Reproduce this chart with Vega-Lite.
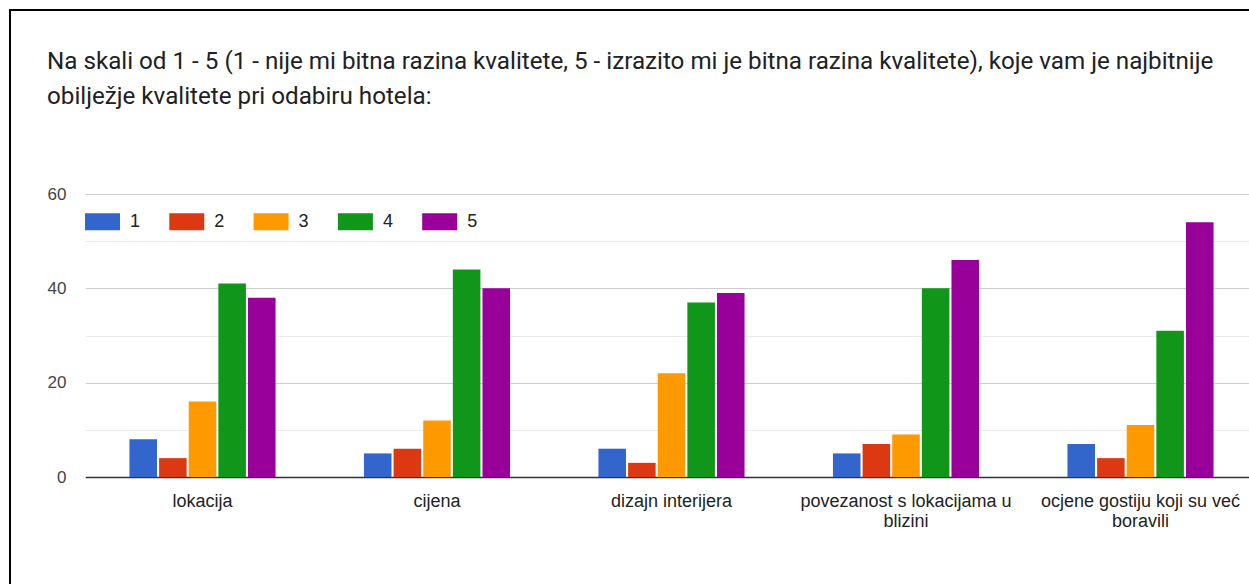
{
  "$schema": "https://vega.github.io/schema/vega-lite/v6.json",
  "width": 1260,
  "height": 600,
  "autosize": {"type": "none"},
  "padding": {"left": 10, "top": 10, "right": 0, "bottom": 0},
  "background": "white",
  "title": {
    "text": ["Na skali od 1 - 5 (1 - nije mi bitna razina kvalitete, 5 - izrazito mi je bitna razina kvalitete), koje vam je najbitnije", "obilježje kvalitete pri odabiru hotela:"],
    "anchor": "start",
    "frame": "group",
    "orient": "top",
    "baseline": "top",
    "offset": -99,
    "dx": 37,
    "fontSize": 24.2,
    "fontWeight": "normal",
    "font": "Roboto",
    "color": "#202124",
    "lineHeight": 35
  },
  "data": {
    "values": [
      {"kategorija": "lokacija", "ocjena": "1", "broj": 8},
      {"kategorija": "lokacija", "ocjena": "2", "broj": 4},
      {"kategorija": "lokacija", "ocjena": "3", "broj": 16},
      {"kategorija": "lokacija", "ocjena": "4", "broj": 41},
      {"kategorija": "lokacija", "ocjena": "5", "broj": 38},
      {"kategorija": "cijena", "ocjena": "1", "broj": 5},
      {"kategorija": "cijena", "ocjena": "2", "broj": 6},
      {"kategorija": "cijena", "ocjena": "3", "broj": 12},
      {"kategorija": "cijena", "ocjena": "4", "broj": 44},
      {"kategorija": "cijena", "ocjena": "5", "broj": 40},
      {"kategorija": "dizajn interijera", "ocjena": "1", "broj": 6},
      {"kategorija": "dizajn interijera", "ocjena": "2", "broj": 3},
      {"kategorija": "dizajn interijera", "ocjena": "3", "broj": 22},
      {"kategorija": "dizajn interijera", "ocjena": "4", "broj": 37},
      {"kategorija": "dizajn interijera", "ocjena": "5", "broj": 39},
      {"kategorija": "povezanost s lokacijama u blizini", "ocjena": "1", "broj": 5},
      {"kategorija": "povezanost s lokacijama u blizini", "ocjena": "2", "broj": 7},
      {"kategorija": "povezanost s lokacijama u blizini", "ocjena": "3", "broj": 9},
      {"kategorija": "povezanost s lokacijama u blizini", "ocjena": "4", "broj": 40},
      {"kategorija": "povezanost s lokacijama u blizini", "ocjena": "5", "broj": 46},
      {"kategorija": "ocjene gostiju koji su već boravili", "ocjena": "1", "broj": 7},
      {"kategorija": "ocjene gostiju koji su već boravili", "ocjena": "2", "broj": 4},
      {"kategorija": "ocjene gostiju koji su već boravili", "ocjena": "3", "broj": 11},
      {"kategorija": "ocjene gostiju koji su već boravili", "ocjena": "4", "broj": 31},
      {"kategorija": "ocjene gostiju koji su već boravili", "ocjena": "5", "broj": 54}
    ]
  },
  "mark": {"type": "bar"},
  "encoding": {
    "x": {
      "field": "kategorija",
      "type": "nominal",
      "sort": ["lokacija", "cijena", "dizajn interijera", "povezanost s lokacijama u blizini", "ocjene gostiju koji su već boravili"],
      "scale": {"range": [75.25, 1247.75], "paddingInner": 0.377, "paddingOuter": 0.1885},
      "axis": {
        "title": null,
        "offset": -133,
        "ticks": false,
        "grid": false,
        "domainColor": "#333333",
        "domainWidth": 1.5,
        "labelAngle": 0,
        "labelPadding": 15,
        "labelFontSize": 18,
        "labelFont": "Liberation Sans",
        "labelColor": "#222222",
        "labelLimit": 400,
        "labelLineHeight": 20,
        "labelExpr": "datum.value == 'povezanost s lokacijama u blizini' ? ['povezanost s lokacijama u', 'blizini'] : datum.value == 'ocjene gostiju koji su već boravili' ? ['ocjene gostiju koji su već', 'boravili'] : datum.label"
      }
    },
    "xOffset": {
      "field": "ocjena",
      "type": "nominal",
      "scale": {"paddingInner": 0.07, "paddingOuter": 0}
    },
    "y": {
      "field": "broj",
      "type": "quantitative",
      "scale": {"domain": [0, 60], "range": [467, 184], "nice": false},
      "axis": {
        "title": null,
        "values": [0, 10, 20, 30, 40, 50, 60],
        "labelExpr": "datum.value % 20 === 0 ? datum.label : ''",
        "gridColor": {"condition": {"test": "datum.value % 20 === 0", "value": "#cccccc"}, "value": "#ebebeb"},
        "gridWidth": 1,
        "ticks": false,
        "domain": false,
        "offset": -75,
        "labelPadding": 19,
        "labelFontSize": 17,
        "labelFont": "Liberation Sans",
        "labelColor": "#444444"
      }
    },
    "color": {
      "field": "ocjena",
      "type": "nominal",
      "scale": {"domain": ["1", "2", "3", "4", "5"], "range": ["#3366cc", "#dc3912", "#ff9900", "#109618", "#990099"]},
      "legend": {
        "title": null,
        "orient": "none",
        "legendX": 75,
        "legendY": 194,
        "direction": "horizontal",
        "symbolType": "M-1,-0.486H1V0.486H-1Z",
        "symbolSize": 1225,
        "symbolStrokeWidth": 0,
        "symbolOpacity": 1,
        "labelFontSize": 18,
        "labelFont": "Liberation Sans",
        "labelColor": "#222222",
        "labelOffset": 10,
        "columnPadding": 28.3
      }
    }
  },
  "config": {
    "view": {"stroke": "black", "strokeWidth": 2},
    "font": "Liberation Sans"
  }
}
